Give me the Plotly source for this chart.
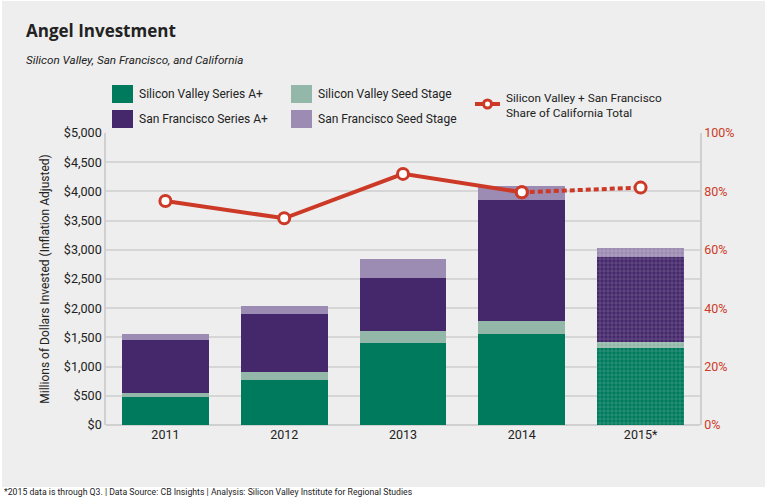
import plotly.graph_objects as go

years = ["2011", "2012", "2013", "2014", "2015*"]
sv_series_a = [485, 770, 1410, 1564, 1324]
sv_seed = [68, 132, 200, 217, 103]
sf_series_a = [902, 1004, 913, 2072, 1455]
sf_seed = [103, 137, 325, 239, 143]
share_ca = [76.7, 70.8, 86.0, 79.7, 81.3]
y_ticks = [0, 500, 1000, 1500, 2000, 2500, 3000, 3500, 4000, 4500, 5000]
y_ticklabels = ["$0", "$500", "$1,000", "$1,500", "$2,000", "$2,500", "$3,000",
                "$3,500", "$4,000", "$4,500", "$5,000"]
y2_ticks = [0, 20, 40, 60, 80, 100]
y2_ticklabels = ["0%", "20%", "40%", "60%", "80%", "100%"]

C_SVA = "#007A5C"
C_SVS = "#93B8AA"
C_SFA = "#45276B"
C_SFS = "#9C8BB2"
C_RED = "#CC3A27"
FONT = "Roboto, sans-serif"

W, H = 768, 504
ML, MR, MT, MB = 106, 68, 133, 79
PW, PH = W - ML - MR, H - MT - MB


def px(x):
    return (x - ML) / PW


def py(y):
    return (H - MB - y) / PH


# pattern only on the partial-year (2015) bar
pat_shapes = ["" if y != "2015*" else "+" for y in years]

fig = go.Figure()
for name, vals, col in [("Silicon Valley Series A+", sv_series_a, C_SVA),
                        ("Silicon Valley Seed Stage", sv_seed, C_SVS),
                        ("San Francisco Series A+", sf_series_a, C_SFA),
                        ("San Francisco Seed Stage", sf_seed, C_SFS)]:
    fig.add_trace(go.Bar(
        x=years, y=vals, name=name, marker_color=col, marker_line_width=0,
        marker_pattern=dict(shape=pat_shapes, fillmode="overlay",
                            fgcolor="rgba(255,255,255,0.5)", size=4, solidity=0.3),
        showlegend=False, hoverinfo="skip"))

solid = share_ca[:4] + [None]
dotted = [None] * 3 + share_ca[3:]
marker = dict(symbol="circle", size=11, color="white", line=dict(color=C_RED, width=3))
fig.add_trace(go.Scatter(x=years, y=dotted, yaxis="y2", mode="lines+markers",
                         line=dict(color=C_RED, width=4, dash="5px,3px"),
                         marker=marker, showlegend=False, connectgaps=False,
                         hoverinfo="skip"))
fig.add_trace(go.Scatter(x=years, y=solid, yaxis="y2", mode="lines+markers",
                         line=dict(color=C_RED, width=4),
                         marker=marker, showlegend=False, connectgaps=False,
                         hoverinfo="skip"))

shapes = [
    dict(type="rect", xref="paper", yref="paper", x0=px(2), x1=px(765), y0=py(487), y1=py(1),
         fillcolor="#EEEEEE", line_width=0, layer="below"),
]
annotations = [
    dict(text="<b>Angel Investment</b>", x=px(24), y=py(30), xanchor="left", yanchor="middle",
         font=dict(family="Open Sans, sans-serif", size=17, color="#222")),
    dict(text="<i>Silicon Valley, San Francisco, and California</i>", x=px(24), y=py(60),
         xanchor="left", yanchor="middle", font=dict(family=FONT, size=11.7, color="#222")),
    dict(text="*2015 data is through Q3. | Data Source: CB Insights | Analysis: Silicon Valley Institute for Regional Studies",
         x=px(2), y=py(492), xanchor="left", yanchor="middle",
         font=dict(family=FONT, size=8.7, color="#222")),
]

legend_items = [
    ("Silicon Valley Series A+", C_SVA, 112, 94),
    ("San Francisco Series A+", C_SFA, 112, 119),
    ("Silicon Valley Seed Stage", C_SVS, 291, 94),
    ("San Francisco Seed Stage", C_SFS, 291, 119),
]
for txt, col, x, yc in legend_items:
    shapes.append(dict(type="rect", xref="paper", yref="paper", x0=px(x), x1=px(x + 21),
                       y0=py(yc + 9), y1=py(yc - 9), fillcolor=col, line_width=0))
    annotations.append(dict(text=txt, x=px(x + 25), y=py(yc), xanchor="left", yanchor="middle",
                            font=dict(family=FONT, size=12, color="#222")))
shapes.append(dict(type="line", xref="paper", yref="paper", x0=px(475), x1=px(500),
                   y0=py(104), y1=py(104), line=dict(color=C_RED, width=4)))
shapes.append(dict(type="circle", xref="paper", yref="paper", x0=px(483.5), x1=px(491.5),
                   y0=py(108), y1=py(100), fillcolor="white", line=dict(color=C_RED, width=3)))
annotations.append(dict(text="Silicon Valley + San Francisco<br>Share of California Total",
                        x=px(504), y=py(105), xanchor="left", yanchor="middle", align="left",
                        font=dict(family=FONT, size=11.8, color="#222")))
for a in annotations:
    a.update(xref="paper", yref="paper", showarrow=False)

fig.update_layout(
    width=W, height=H,
    margin=dict(l=ML, r=MR, t=MT, b=MB),
    paper_bgcolor="white", plot_bgcolor="#EEEEEE",
    barmode="stack", bargap=0.27,
    font=dict(family=FONT, size=12, color="#222"),
    xaxis=dict(showgrid=False, ticks="", tickfont=dict(size=12.5, color="#222"),
               showline=False),
    yaxis=dict(range=[0, 5000], tickvals=y_ticks, ticktext=y_ticklabels,
               gridcolor="#D6D6D6", gridwidth=1.5, zeroline=True, zerolinecolor="#D0D0D0",
               zerolinewidth=1.5, showline=True, linecolor="#D0D0D0", linewidth=1.5,
               ticks="", tickfont=dict(size=12.6, color="#222"),
               title=dict(text="Millions of Dollars Invested (Inflation Adjusted)",
                          font=dict(size=12, color="#222"), standoff=12)),
    yaxis2=dict(range=[0, 100], tickvals=y2_ticks, ticktext=y2_ticklabels, overlaying="y",
                side="right", showgrid=False, zeroline=False, showline=True,
                linecolor="#D0D0D0", linewidth=1.5, ticks="",
                tickfont=dict(size=12.5, color=C_RED)),
    shapes=shapes, annotations=annotations,
    hovermode=False,
)

fig.write_html("out.html", config={"displayModeBar": False},
               post_script="document.body.style.margin='0';")
